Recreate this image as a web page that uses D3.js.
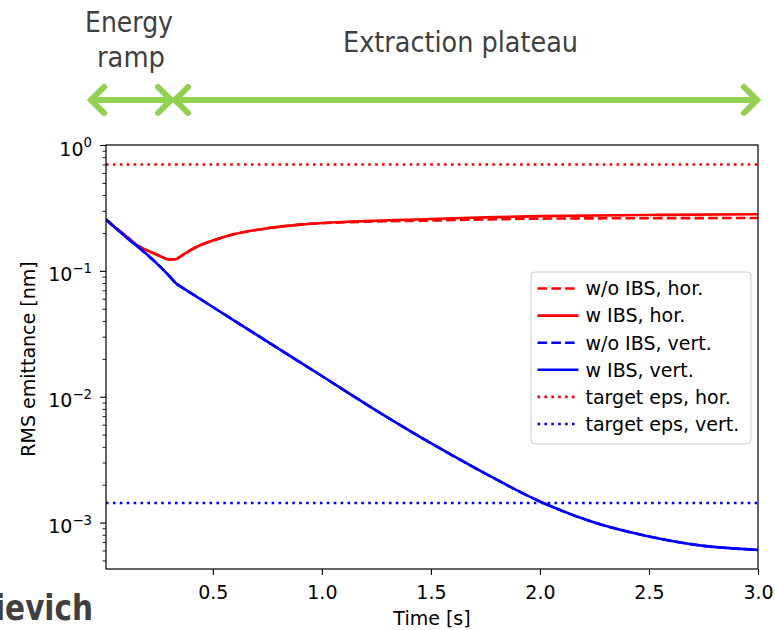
<!DOCTYPE html>
<html>
<head>
<meta charset="utf-8">
<script src="https://cdn.jsdelivr.net/npm/d3@7"></script>
<style>
    body { margin: 0; background: #fff; }
    text { font-family: "DejaVu Sans", sans-serif; }
</style>
</head>
<body>
<script>
// time samples [s] and emittances [nm]
const tRed = [0.01, 0.05, 0.1, 0.15, 0.2, 0.25, 0.3, 0.333, 0.36, 0.4, 0.45, 0.5, 0.6, 0.75, 0.9, 1.0, 1.2, 1.5, 1.75, 2.0, 2.5, 3.0];
const redIbs = [0.256, 0.222, 0.190, 0.161, 0.145, 0.133, 0.123, 0.124, 0.133, 0.147, 0.162, 0.174, 0.196, 0.218, 0.233, 0.240, 0.249, 0.258, 0.266, 0.272, 0.278, 0.282];
const redNoIbs = [0.256, 0.222, 0.190, 0.161, 0.145, 0.133, 0.123, 0.124, 0.133, 0.147, 0.162, 0.174, 0.196, 0.218, 0.233, 0.239, 0.246, 0.251, 0.256, 0.260, 0.262, 0.263];

const tBlue = [0.01, 0.1, 0.2, 0.265, 0.3, 0.333, 0.5, 0.75, 1.0, 1.25, 1.5, 1.75, 2.0, 2.25, 2.5, 2.75, 3.0];
const blueIbs = [0.256, 0.187, 0.134, 0.105, 0.091, 0.0787, 0.0516, 0.0274, 0.0146, 0.00776, 0.00427, 0.00245, 0.00147, 0.00100, 0.000776, 0.000653, 0.000607];
const blueNoIbs = [0.256, 0.187, 0.134, 0.105, 0.091, 0.0787, 0.0516, 0.0274, 0.0146, 0.00776, 0.00427, 0.00245, 0.00147, 0.00100, 0.000776, 0.000653, 0.000607];

const rampEnd = 0.333; // end of energy ramp, kink in the curves

const targetHor = 0.70;
const targetVert = 0.00143;

const xTicks = [0.5, 1.0, 1.5, 2.0, 2.5, 3.0];
const yTicks = [1e-3, 1e-2, 1e-1, 1];
const yTickExp = ["\u22123", "\u22122", "\u22121", "0"];

const legendLabels = ["w/o IBS, hor.", "w IBS, hor.", "w/o IBS, vert.", "w IBS, vert.", "target eps, hor.", "target eps, vert."];

const W = 775, H = 630;
const pl = 106, pr = 758, pt = 145, pb = 569;

const svg = d3.select("body").append("svg")
    .attr("width", W)
    .attr("height", H);

const x = d3.scaleLinear().domain([0.01, 3.0]).range([pl, pr]);
const y = d3.scaleLog().domain([Math.pow(10, -3.369), 1]).range([pb, pt]);

const lw = 2.6;
const styles = [
    { color: "#ff0000", dash: "9.6,4.2" },
    { color: "#ff0000", dash: null },
    { color: "#0000ff", dash: "9.6,4.2" },
    { color: "#0000ff", dash: null },
    { color: "#ff0000", dash: "2.6,4.3" },
    { color: "#0000ff", dash: "2.6,4.3" }
];

let series = [
    { t: tRed, v: redNoIbs },
    { t: tRed, v: redIbs },
    { t: tBlue, v: blueNoIbs },
    { t: tBlue, v: blueIbs },
    { t: [0.01, 3.0], v: [targetHor, targetHor] },
    { t: [0.01, 3.0], v: [targetVert, targetVert] }
];

const line = d3.line()
    .x(d => x(d[0]))
    .y(d => y(d[1]))
    .curve(d3.curveMonotoneX);

svg.append("clipPath").attr("id", "plotclip")
    .append("rect")
    .attr("x", pl).attr("y", pt)
    .attr("width", pr - pl).attr("height", pb - pt);

const plot = svg.append("g").attr("clip-path", "url(#plotclip)");

series.forEach((s, i) => {
    let pts = s.t.map((t, j) => [t, s.v[j]]);
    // smooth on each side of the ramp end, sharp kink at it
    let k = s.t.indexOf(rampEnd);
    let parts = k > 0 ? [pts.slice(0, k + 1), pts.slice(k)] : [pts];
    let d = parts.map(p => line(p)).join("");
    plot.append("path")
        .attr("d", d)
        .attr("fill", "none")
        .attr("stroke", styles[i].color)
        .attr("stroke-width", lw)
        .attr("stroke-linejoin", "round")
        .attr("stroke-dasharray", styles[i].dash);
});

// axes
const xAxis = d3.axisBottom(x)
    .tickValues(xTicks)
    .tickFormat(d3.format(".1f"))
    .tickSize(6)
    .tickPadding(10.5);

svg.append("g")
    .attr("transform", "translate(0," + pb + ")")
    .call(xAxis)
    .call(g => g.select(".domain").remove())
    .call(g => g.selectAll("line").attr("stroke", "#000").attr("stroke-width", 1.1))
    .call(g => g.selectAll("text").attr("font-size", 19).attr("fill", "#000").attr("font-family", "DejaVu Sans"));

let minors = [];
for (let e = -4; e <= 0; e++) {
    for (let m = 2; m <= 9; m++) {
        let v = m * Math.pow(10, e);
        if (v >= y.domain()[0] && v <= 1) minors.push(v);
    }
}

svg.append("g")
    .attr("transform", "translate(" + pl + ",0)")
    .call(d3.axisLeft(y).tickValues(minors).tickFormat("").tickSize(3.5))
    .call(g => g.select(".domain").remove())
    .call(g => g.selectAll("line").attr("stroke", "#000").attr("stroke-width", 0.9));

const yAxisG = svg.append("g")
    .attr("transform", "translate(" + pl + ",0)")
    .call(d3.axisLeft(y).tickValues(yTicks).tickFormat("").tickSize(6))
    .call(g => g.select(".domain").remove())
    .call(g => g.selectAll("line").attr("stroke", "#000").attr("stroke-width", 1.1));

yAxisG.selectAll(".tick").each(function (d, i) {
    let txt = d3.select(this).select("text")
        .attr("x", -14)
        .attr("dy", null)
        .attr("y", 10)
        .attr("text-anchor", "end")
        .attr("fill", "#000")
        .attr("font-family", "DejaVu Sans")
        .attr("font-size", 19);
    txt.append("tspan").text("10");
    txt.append("tspan")
        .attr("font-size", 13.3)
        .attr("dy", -8.5)
        .text(yTickExp[i]);
});

// frame
svg.append("rect")
    .attr("x", pl).attr("y", pt)
    .attr("width", pr - pl).attr("height", pb - pt)
    .attr("fill", "none")
    .attr("stroke", "#000")
    .attr("stroke-width", 1.2);

svg.append("text")
    .attr("x", (pl + pr) / 2)
    .attr("y", 625)
    .attr("text-anchor", "middle")
    .attr("font-size", 19)
    .text("Time [s]");

svg.append("text")
    .attr("transform", "translate(35,359) rotate(-90)")
    .attr("text-anchor", "middle")
    .attr("font-size", 19)
    .text("RMS emittance [nm]");

// legend
const lg = svg.append("g").attr("transform", "translate(531,272)");
lg.append("rect")
    .attr("width", 220).attr("height", 172)
    .attr("rx", 4)
    .attr("fill", "#fff")
    .attr("fill-opacity", 0.8)
    .attr("stroke", "#cccccc")
    .attr("stroke-width", 1);

legendLabels.forEach((lab, i) => {
    let cy = 16.5 + i * 27.1;
    lg.append("line")
        .attr("x1", 6.5).attr("x2", 47.5)
        .attr("y1", cy).attr("y2", cy)
        .attr("stroke", styles[i].color)
        .attr("stroke-width", lw)
        .attr("stroke-dasharray", styles[i].dash);
    lg.append("text")
        .attr("x", 54.5)
        .attr("y", cy)
        .attr("dy", "0.36em")
        .attr("font-size", 19)
        .text(lab);
});

// phase annotations above the plot
const green = "#92d050";
const arrowY = 100;
const arrows = [[91, 171], [175, 757]];
arrows.forEach(a => {
    let g = svg.append("g")
        .attr("fill", "none")
        .attr("stroke", green)
        .attr("stroke-width", 6)
        .attr("stroke-linecap", "round")
        .attr("stroke-linejoin", "miter");
    g.append("line").attr("x1", a[0] + 2).attr("x2", a[1] - 2).attr("y1", arrowY).attr("y2", arrowY);
    g.append("polyline").attr("points", [[a[0] + 13, arrowY - 13], [a[0], arrowY], [a[0] + 13, arrowY + 13]].join(" "));
    g.append("polyline").attr("points", [[a[1] - 13, arrowY - 13], [a[1], arrowY], [a[1] - 13, arrowY + 13]].join(" "));
});

const note = svg.append("g")
    .attr("fill", "#404040")
    .attr("font-family", "Lato, 'Open Sans', sans-serif")
    .attr("font-size", 29);
note.append("text").attr("x", 85).attr("y", 32)
    .attr("textLength", 88).attr("lengthAdjust", "spacingAndGlyphs").text("Energy");
note.append("text").attr("x", 97).attr("y", 67)
    .attr("textLength", 68).attr("lengthAdjust", "spacingAndGlyphs").text("ramp");
note.append("text").attr("x", 343).attr("y", 52)
    .attr("textLength", 235).attr("lengthAdjust", "spacingAndGlyphs").text("Extraction plateau");

svg.append("text")
    .attr("x", -5)
    .attr("y", 620)
    .attr("fill", "#404040")
    .attr("font-family", "Lato, 'Open Sans', sans-serif")
    .attr("font-weight", "bold")
    .attr("font-size", 35)
    .attr("textLength", 98)
    .attr("lengthAdjust", "spacingAndGlyphs")
    .text("ievich");
</script>
</body>
</html>
